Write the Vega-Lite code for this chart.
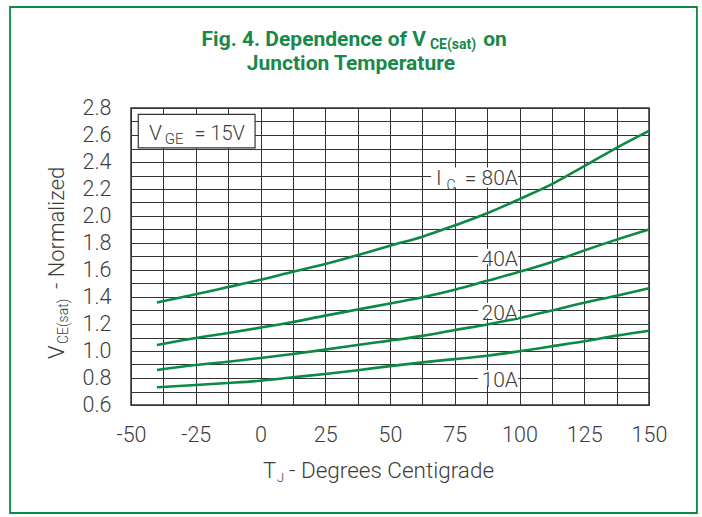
{
  "$schema": "https://vega.github.io/schema/vega-lite/v6.json",
  "autosize": "none",
  "width": 518,
  "height": 297,
  "padding": {"left": 131, "top": 108, "right": 53, "bottom": 112},
  "background": "white",
  "config": {
    "view": {"stroke": "#333333", "strokeWidth": 1.5},
    "text": {"font": "Roboto", "fontWeight": 300, "fontSize": 21, "color": "#3c3c3c", "baseline": "alphabetic"}
  },
  "resolve": {"axis": {"x": "independent", "y": "independent"}},
  "datasets": {
    "curves": [
      {"T": -40, "V": 1.36, "Ic": "80A"}, {"T": -25, "V": 1.42, "Ic": "80A"}, {"T": -12.5, "V": 1.474, "Ic": "80A"}, {"T": 0, "V": 1.528, "Ic": "80A"}, {"T": 12.5, "V": 1.587, "Ic": "80A"}, {"T": 25, "V": 1.644, "Ic": "80A"}, {"T": 37.5, "V": 1.71, "Ic": "80A"}, {"T": 50, "V": 1.78, "Ic": "80A"}, {"T": 62.5, "V": 1.847, "Ic": "80A"}, {"T": 75, "V": 1.93, "Ic": "80A"}, {"T": 87.5, "V": 2.02, "Ic": "80A"}, {"T": 100, "V": 2.125, "Ic": "80A"}, {"T": 112.5, "V": 2.236, "Ic": "80A"}, {"T": 125, "V": 2.37, "Ic": "80A"}, {"T": 137.5, "V": 2.505, "Ic": "80A"}, {"T": 150, "V": 2.63, "Ic": "80A"},
      {"T": -40, "V": 1.044, "Ic": "40A"}, {"T": -25, "V": 1.096, "Ic": "40A"}, {"T": -12.5, "V": 1.133, "Ic": "40A"}, {"T": 0, "V": 1.173, "Ic": "40A"}, {"T": 12.5, "V": 1.215, "Ic": "40A"}, {"T": 25, "V": 1.262, "Ic": "40A"}, {"T": 37.5, "V": 1.307, "Ic": "40A"}, {"T": 50, "V": 1.352, "Ic": "40A"}, {"T": 62.5, "V": 1.398, "Ic": "40A"}, {"T": 75, "V": 1.454, "Ic": "40A"}, {"T": 87.5, "V": 1.52, "Ic": "40A"}, {"T": 100, "V": 1.587, "Ic": "40A"}, {"T": 112.5, "V": 1.66, "Ic": "40A"}, {"T": 125, "V": 1.745, "Ic": "40A"}, {"T": 137.5, "V": 1.825, "Ic": "40A"}, {"T": 150, "V": 1.9, "Ic": "40A"},
      {"T": -40, "V": 0.859, "Ic": "20A"}, {"T": -25, "V": 0.896, "Ic": "20A"}, {"T": -12.5, "V": 0.92, "Ic": "20A"}, {"T": 0, "V": 0.948, "Ic": "20A"}, {"T": 12.5, "V": 0.978, "Ic": "20A"}, {"T": 25, "V": 1.01, "Ic": "20A"}, {"T": 37.5, "V": 1.045, "Ic": "20A"}, {"T": 50, "V": 1.077, "Ic": "20A"}, {"T": 62.5, "V": 1.112, "Ic": "20A"}, {"T": 75, "V": 1.155, "Ic": "20A"}, {"T": 87.5, "V": 1.197, "Ic": "20A"}, {"T": 100, "V": 1.244, "Ic": "20A"}, {"T": 112.5, "V": 1.3, "Ic": "20A"}, {"T": 125, "V": 1.358, "Ic": "20A"}, {"T": 137.5, "V": 1.41, "Ic": "20A"}, {"T": 150, "V": 1.465, "Ic": "20A"},
      {"T": -40, "V": 0.731, "Ic": "10A"}, {"T": -25, "V": 0.748, "Ic": "10A"}, {"T": -12.5, "V": 0.763, "Ic": "10A"}, {"T": 0, "V": 0.78, "Ic": "10A"}, {"T": 12.5, "V": 0.805, "Ic": "10A"}, {"T": 25, "V": 0.83, "Ic": "10A"}, {"T": 37.5, "V": 0.858, "Ic": "10A"}, {"T": 50, "V": 0.888, "Ic": "10A"}, {"T": 62.5, "V": 0.916, "Ic": "10A"}, {"T": 75, "V": 0.94, "Ic": "10A"}, {"T": 87.5, "V": 0.965, "Ic": "10A"}, {"T": 100, "V": 0.998, "Ic": "10A"}, {"T": 112.5, "V": 1.035, "Ic": "10A"}, {"T": 125, "V": 1.072, "Ic": "10A"}, {"T": 137.5, "V": 1.114, "Ic": "10A"}, {"T": 150, "V": 1.15, "Ic": "10A"}
    ],
    "labels": [
      {"label": "40A", "T": 99.4, "V": 1.633},
      {"label": "20A", "T": 99.4, "V": 1.233},
      {"label": "10A", "T": 99.4, "V": 0.733}
    ],
    "one": [{}]
  },
  "layer": [
    {
      "data": {"name": "curves"},
      "mark": {"type": "line", "color": "#0b8a43", "strokeWidth": 2.6, "interpolate": "monotone"},
      "encoding": {
        "x": {
          "field": "T", "type": "quantitative",
          "scale": {"domain": [-50, 150], "nice": false, "zero": false},
          "axis": {
            "orient": "bottom",
            "title": null,
            "values": [-50, -37.5, -25, -12.5, 0, 12.5, 25, 37.5, 50, 62.5, 75, 87.5, 100, 112.5, 125, 137.5, 150],
            "labelExpr": "datum.value % 25 == 0 ? '' + datum.value : ''",
            "grid": true, "gridColor": "#333333", "gridWidth": 1, "gridOpacity": 1,
            "ticks": false, "domain": false,
            "labelFont": "Roboto", "labelFontWeight": 300, "labelFontSize": 21.5, "labelColor": "#3c3c3c",
            "labelPadding": 19, "labelOverlap": false, "labelFlush": false, "labelBound": false
          }
        },
        "y": {
          "field": "V", "type": "quantitative",
          "scale": {"domain": [0.6, 2.8], "nice": false, "zero": false},
          "axis": {
            "orient": "left",
            "title": null,
            "values": [0.6, 0.7, 0.8, 0.9, 1.0, 1.1, 1.2, 1.3, 1.4, 1.5, 1.6, 1.7, 1.8, 1.9, 2.0, 2.1, 2.2, 2.3, 2.4, 2.5, 2.6, 2.7, 2.8],
            "labelExpr": "round(datum.value * 10) % 2 == 0 ? format(datum.value, '.1f') : ''",
            "grid": true, "gridColor": "#333333", "gridWidth": 1, "gridOpacity": 1,
            "ticks": false, "domain": false,
            "labelFont": "Roboto", "labelFontWeight": 300, "labelFontSize": 21.5, "labelColor": "#3c3c3c",
            "labelPadding": 20, "labelOverlap": false, "labelFlush": false, "labelBound": false
          }
        },
        "detail": {"field": "Ic"}
      }
    },
    {
      "data": {"name": "one"},
      "mark": {"type": "rect", "fill": "transparent", "stroke": "#0b8a43", "strokeWidth": 1.8, "clip": false},
      "encoding": {"x": {"datum": -96.7, "axis": null}, "x2": {"datum": 168.5}, "y": {"datum": 3.548, "axis": null}, "y2": {"datum": -0.2}}
    },
    {
      "data": {"name": "one"},
      "mark": {"type": "rect", "fill": "white", "stroke": "#333333", "strokeWidth": 1.2},
      "encoding": {"x": {"datum": -47.2, "axis": null}, "x2": {"datum": -2.1}, "y": {"datum": 2.753, "axis": null}, "y2": {"datum": 2.504}}
    },
    {
      "data": {"name": "one"},
      "mark": {"type": "rect", "fill": "white"},
      "encoding": {"x": {"datum": 65.9, "axis": null}, "x2": {"datum": 99.4}, "y": {"datum": 2.212, "axis": null}, "y2": {"datum": 2.36}}
    },
    {
      "data": {"name": "one"},
      "mark": {"type": "rect", "fill": "white"},
      "encoding": {"x": {"datum": 84, "axis": null}, "x2": {"datum": 99.5}, "y": {"datum": 1.642, "axis": null}, "y2": {"datum": 1.758}}
    },
    {
      "data": {"name": "one"},
      "mark": {"type": "rect", "fill": "white"},
      "encoding": {"x": {"datum": 84, "axis": null}, "x2": {"datum": 99.5}, "y": {"datum": 1.242, "axis": null}, "y2": {"datum": 1.358}}
    },
    {
      "data": {"name": "one"},
      "mark": {"type": "rect", "fill": "white"},
      "encoding": {"x": {"datum": 84, "axis": null}, "x2": {"datum": 99.5}, "y": {"datum": 0.742, "axis": null}, "y2": {"datum": 0.858}}
    },
    {
      "data": {"name": "labels"},
      "mark": {"type": "text", "align": "right"},
      "encoding": {"x": {"field": "T", "type": "quantitative", "axis": null}, "y": {"field": "V", "type": "quantitative", "axis": null}, "text": {"field": "label"}}
    },
    {"data": {"name": "one"}, "mark": {"type": "text", "align": "left"}, "encoding": {"x": {"datum": 67.8, "axis": null}, "y": {"datum": 2.23, "axis": null}, "text": {"value": "I"}}},
    {"data": {"name": "one"}, "mark": {"type": "text", "align": "left", "fontSize": 14}, "encoding": {"x": {"datum": 71.8, "axis": null}, "y": {"datum": 2.193, "axis": null}, "text": {"value": "C"}}},
    {"data": {"name": "one"}, "mark": {"type": "text", "align": "right"}, "encoding": {"x": {"datum": 99.4, "axis": null}, "y": {"datum": 2.23, "axis": null}, "text": {"value": "= 80A"}}},
    {"data": {"name": "one"}, "mark": {"type": "text", "align": "left", "fontSize": 21}, "encoding": {"x": {"datum": -43.05, "axis": null}, "y": {"datum": 2.563, "axis": null}, "text": {"value": "V"}}},
    {"data": {"name": "one"}, "mark": {"type": "text", "align": "left", "fontSize": 15}, "encoding": {"x": {"datum": -37.0, "axis": null}, "y": {"datum": 2.53, "axis": null}, "text": {"value": "GE"}}},
    {"data": {"name": "one"}, "mark": {"type": "text", "align": "right", "fontSize": 20}, "encoding": {"x": {"datum": -6.0, "axis": null}, "y": {"datum": 2.563, "axis": null}, "text": {"value": "= 15V"}}},
    {"data": {"name": "one"}, "mark": {"type": "text", "align": "right", "fontSize": 22, "clip": false}, "encoding": {"x": {"datum": 6.0, "axis": null}, "y": {"datum": 0.059, "axis": null}, "text": {"value": "T"}}},
    {"data": {"name": "one"}, "mark": {"type": "text", "align": "left", "fontSize": 13, "clip": false}, "encoding": {"x": {"datum": 6.4, "axis": null}, "y": {"datum": 0.03, "axis": null}, "text": {"value": "J"}}},
    {"data": {"name": "one"}, "mark": {"type": "text", "align": "left", "fontSize": 22.5, "clip": false}, "encoding": {"x": {"datum": 11.0, "axis": null}, "y": {"datum": 0.059, "axis": null}, "text": {"value": "- Degrees Centigrade"}}},
    {"data": {"name": "one"}, "mark": {"type": "text", "align": "left", "angle": 270, "fontSize": 22, "clip": false}, "encoding": {"x": {"datum": -75.9, "axis": null}, "y": {"datum": 0.941, "axis": null}, "text": {"value": "V"}}},
    {"data": {"name": "one"}, "mark": {"type": "text", "align": "left", "angle": 270, "fontSize": 14, "clip": false}, "encoding": {"x": {"datum": -74.3, "axis": null}, "y": {"datum": 1.052, "axis": null}, "text": {"value": "CE(sat)"}}},
    {"data": {"name": "one"}, "mark": {"type": "text", "align": "left", "angle": 270, "fontSize": 22, "clip": false}, "encoding": {"x": {"datum": -75.9, "axis": null}, "y": {"datum": 1.459, "axis": null}, "text": {"value": "- Normalized"}}},
    {"data": {"name": "one"}, "mark": {"type": "text", "align": "right", "font": "Roboto", "fontWeight": "bold", "fontSize": 21, "color": "#17894a", "clip": false}, "encoding": {"x": {"datum": 63.9, "axis": null}, "y": {"datum": 3.259, "axis": null}, "text": {"value": "Fig. 4. Dependence of V"}}},
    {"data": {"name": "one"}, "mark": {"type": "text", "align": "left", "font": "Roboto", "fontWeight": "bold", "fontSize": 14, "color": "#17894a", "clip": false}, "encoding": {"x": {"datum": 65.4, "axis": null}, "y": {"datum": 3.238, "axis": null}, "text": {"value": "CE(sat)"}}},
    {"data": {"name": "one"}, "mark": {"type": "text", "align": "left", "font": "Roboto", "fontWeight": "bold", "fontSize": 21, "color": "#17894a", "clip": false}, "encoding": {"x": {"datum": 86.0, "axis": null}, "y": {"datum": 3.259, "axis": null}, "text": {"value": "on"}}},
    {"data": {"name": "one"}, "mark": {"type": "text", "align": "center", "font": "Roboto", "fontWeight": "bold", "fontSize": 21, "color": "#17894a", "clip": false}, "encoding": {"x": {"datum": 34.9, "axis": null}, "y": {"datum": 3.084, "axis": null}, "text": {"value": "Junction Temperature"}}}
  ]
}
